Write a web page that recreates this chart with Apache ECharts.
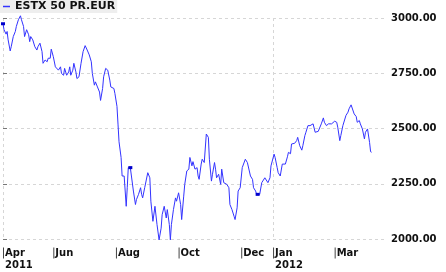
<!DOCTYPE html>
<html><head><meta charset="utf-8">
<script src="https://cdn.jsdelivr.net/npm/echarts@6/dist/echarts.min.js"></script>
<style>html,body{margin:0;padding:0;background:#fff}#c{width:446px;height:272px}</style>
</head><body><div id="c"></div>
<script>
const seriesName = 'ESTX 50 PR.EUR';
const startDate = '2011-04-13';
const axisEndDate = '2012-04-20';
// trading points: days after startDate, and index level
const dayOffsets = [0,1,3,4,5,7,8,10,12,13,15,17,18,20,21,23,25,26,27,29,31,33,34,36,38,39,41,43,44,46,47,49,51,52,54,56,57,59,60,62,64,65,66,68,69,71,72,74,76,78,80,82,84,86,87,89,90,92,94,95,97,98,100,102,104,105,108,109,111,112,113,115,116,118,120,121,122,124,125,127,129,130,132,134,135,136,138,139,141,143,144,146,148,149,150,152,154,155,157,159,160,162,163,164,166,168,169,171,173,174,176,177,179,181,182,184,185,187,189,190,191,193,194,196,197,198,200,201,203,204,206,207,208,210,212,213,215,216,218,220,221,223,225,226,228,229,231,233,234,236,238,239,241,243,244,246,247,250,252,253,255,256,258,260,261,264,265,267,268,270,272,273,275,277,278,280,281,282,284,286,287,289,291,292,294,295,297,299,300,302,304,305,307,308,310,312,313,315,317,318,320,321,323,325,326,328,329,331,332,334,336,337,339,340,342,344,345,347,348,350,352,353,355,357,358,359];
const values = [2974,2947,2927,2939,2901,2851,2870,2916,2939,2962,2992,3010,2992,2962,2916,2947,2924,2893,2916,2901,2870,2855,2870,2886,2848,2795,2810,2802,2818,2818,2859,2825,2779,2772,2764,2779,2749,2741,2772,2741,2756,2779,2741,2764,2795,2756,2726,2734,2795,2848,2875,2855,2833,2802,2749,2696,2711,2688,2665,2627,2681,2734,2772,2764,2719,2688,2681,2658,2600,2520,2440,2369,2285,2285,2148,2232,2323,2323,2323,2217,2156,2179,2202,2232,2202,2186,2232,2240,2300,2277,2171,2080,2148,2156,2065,1996,2049,2110,2148,2095,2133,2065,1996,2065,2133,2186,2171,2209,2156,2088,2194,2247,2308,2316,2369,2331,2350,2316,2323,2285,2270,2339,2361,2346,2339,2475,2460,2361,2262,2293,2346,2316,2277,2293,2247,2316,2255,2262,2247,2232,2156,2133,2103,2088,2141,2217,2232,2323,2316,2361,2346,2339,2285,2270,2232,2217,2202,2202,2255,2247,2277,2285,2255,2277,2331,2384,2369,2323,2300,2285,2339,2342,2339,2372,2392,2386,2430,2437,2433,2445,2460,2422,2402,2422,2468,2483,2513,2513,2516,2521,2483,2490,2487,2494,2521,2548,2528,2513,2521,2513,2521,2513,2533,2528,2506,2445,2468,2513,2518,2559,2574,2589,2607,2604,2566,2554,2528,2536,2521,2498,2453,2483,2498,2437,2395,2392.54];
const markerDays = [0, 124, 248];
const markerValues = [2974, 2323, 2202];
const monthTickDates = ['2011-04-13','2011-06-01','2011-08-01','2011-10-01','2011-12-01','2012-01-01','2012-03-01'];
const monthTickNames = ['Apr','Jun','Aug','Oct','Dec','Jan','Mar'];
const monthTickYears = ['2011','','','','','2012',''];
const yearLineDates = ['2011-04-13','2012-01-01'];
const yMin = 2000, yMax = 3000, yStep = 250;

const FONT = 'DejaVu Sans';
function ts(s){ const p = s.split('-').map(Number); return Date.UTC(p[0], p[1]-1, p[2]); }
function dayOf(s){ return Math.round((ts(s) - ts(startDate)) / 86400000); }

const lineData = dayOffsets.map((d, i) => [d, values[i]]);
const monthDays = monthTickDates.map(dayOf);
const lastValue = values[values.length - 1];

const chart = echarts.init(document.getElementById('c'), null, {renderer: 'canvas'});
chart.setOption({
  animation: false,
  backgroundColor: '#ffffff',
  legend: {
    show: true, left: 0, top: 0,
    padding: [1, 2, 1, 3],
    backgroundColor: '#eeeeee',
    itemWidth: 7, itemHeight: 1.5, itemGap: 4,
    icon: 'rect',
    textStyle: {fontFamily: FONT, fontSize: 11, fontWeight: 'bold', color: '#111'},
    data: [seriesName]
  },
  grid: {left: 3, right: 60, top: 18, bottom: 33, outerBoundsMode: 'none', containLabel: false},
  xAxis: {
    type: 'value',
    min: 0,
    max: dayOf(axisEndDate),
    axisLine: {show: false},
    axisTick: {show: false, customValues: yearLineDates.map(dayOf)},
    splitLine: {show: true, lineStyle: {color: '#d6d6d6', type: [3, 3], width: 1}},
    axisLabel: {
      customValues: monthDays,
      align: 'left',
      margin: 8,
      hideOverlap: false,
      showMinLabel: true,
      formatter: function (val) {
        let i = monthDays.indexOf(Math.round(val));
        if (i < 0) return '';
        let s = '{b|}{m|' + monthTickNames[i] + '}';
        if (monthTickYears[i]) s += '\n{y|' + monthTickYears[i] + '}';
        return s;
      },
      rich: {
        b: {width: 1, height: 11, backgroundColor: '#444', lineHeight: 12},
        m: {fontFamily: FONT, fontSize: 10, fontWeight: 'bold', color: '#111', padding: [0,0,0,1], lineHeight: 12},
        y: {fontFamily: FONT, fontSize: 10, fontWeight: 'bold', color: '#111', padding: [0,0,0,2], lineHeight: 12}
      }
    }
  },
  yAxis: {
    type: 'value',
    position: 'right',
    min: yMin, max: yMax, interval: yStep,
    axisLine: {show: false},
    axisTick: {show: true, length: 4, lineStyle: {color: '#777'}},
    splitLine: {show: true, lineStyle: {color: '#d6d6d6', type: [3, 3], width: 1}},
    axisLabel: {
      margin: 5,
      fontFamily: FONT, fontSize: 10, fontWeight: 'bold', color: '#111',
      formatter: v => v.toFixed(2)
    }
  },
  series: [{
    name: seriesName,
    type: 'line',
    data: lineData,
    showSymbol: false,
    clip: false,
    lineStyle: {color: '#3333ff', width: 1},
    itemStyle: {color: '#3333ff'},
    markPoint: {
      symbol: 'rect',
      symbolSize: [4, 3],
      silent: true,
      itemStyle: {color: '#0000cc'},
      label: {show: false},
      data: markerDays.map((d, i) => ({coord: [d, markerValues[i]]}))
    },
    markLine: {
      silent: true,
      symbol: ['none', 'none'],
      lineStyle: {opacity: 0},
      label: {
        show: true, position: 'end', distance: 4,
        formatter: p => Number(p.value).toFixed(2),
        backgroundColor: '#0a0aff', color: '#ffffff',
        fontFamily: FONT, fontSize: 10, fontWeight: 'bold',
        padding: [1, 1, 0, 1]
      },
      data: [{yAxis: lastValue}]
    }
  }]
});
</script>
</body></html>
